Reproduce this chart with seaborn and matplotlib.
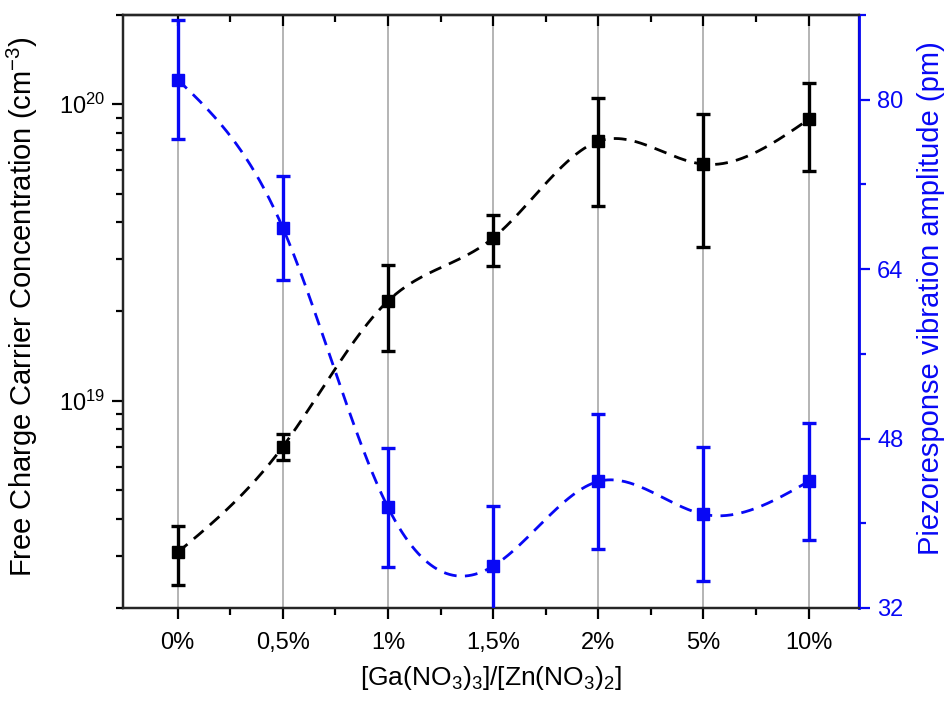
import numpy as np
import pandas as pd
import matplotlib
matplotlib.use("Agg")
import matplotlib.pyplot as plt
import seaborn as sns
from matplotlib.ticker import FixedLocator, MultipleLocator, LogLocator, NullFormatter

# ---- data ----
categories = ["0%", "0,5%", "1%", "1,5%", "2%", "5%", "10%"]
carrier_conc = [3.08e18, 7.0e18, 2.17e19, 3.54e19, 7.5e19, 6.28e19, 8.89e19]
carrier_err = [0.69e18, 0.71e18, 0.70e19, 0.70e19, 2.97e19, 2.98e19, 2.94e19]
piezo_amp = [81.9, 67.9, 41.5, 35.95, 43.95, 40.85, 43.95]
piezo_err = [5.6, 4.9, 5.6, 5.65, 6.4, 6.35, 5.55]

BLUE = "#0808f5"
sns.set_style("ticks")
plt.rcParams["font.family"] = ["Liberation Sans", "DejaVu Sans"]
plt.rcParams["mathtext.fontset"] = "custom"
plt.rcParams["mathtext.rm"] = "Liberation Sans"
plt.rcParams["mathtext.it"] = "Liberation Sans:italic"
plt.rcParams["text.color"] = "black"
plt.rcParams["axes.labelcolor"] = "black"
plt.rcParams["xtick.color"] = "black"
plt.rcParams["ytick.color"] = "black"


def natural_spline(x, y, xs):
    x = np.asarray(x, float); y = np.asarray(y, float)
    n = len(x); h = np.diff(x)
    A = np.zeros((n, n)); b = np.zeros(n)
    A[0, 0] = 1; A[-1, -1] = 1
    for i in range(1, n - 1):
        A[i, i - 1] = h[i - 1]; A[i, i] = 2 * (h[i - 1] + h[i]); A[i, i + 1] = h[i]
        b[i] = 3 * ((y[i + 1] - y[i]) / h[i] - (y[i] - y[i - 1]) / h[i - 1])
    c = np.linalg.solve(A, b)
    out = np.empty_like(xs)
    for k, t in enumerate(xs):
        i = min(max(np.searchsorted(x, t) - 1, 0), n - 2)
        bb = (y[i + 1] - y[i]) / h[i] - h[i] * (2 * c[i] + c[i + 1]) / 3
        d = (c[i + 1] - c[i]) / (3 * h[i])
        dt = t - x[i]
        out[k] = y[i] + bb * dt + c[i] * dt ** 2 + d * dt ** 3
    return out


xpos = np.arange(len(categories))
xs = np.linspace(0, len(categories) - 1, 400)
black_curve = 10 ** natural_spline(xpos, np.log10(carrier_conc), xs)
blue_curve = natural_spline(xpos, piezo_amp, xs)
df_black = pd.DataFrame({"x": xs, "y": black_curve})
df_blue = pd.DataFrame({"x": xs, "y": blue_curve})

fig = plt.figure(figsize=(9.49, 7.09), dpi=100)
ax = fig.add_axes([0.1296, 0.1425, 0.7756, 0.8363])
ax2 = ax.twinx()

# grid
for xp in xpos:
    ax.axvline(xp, color="#b4b4b4", lw=1.4, zorder=0)

# black series
sns.lineplot(data=df_black, x="x", y="y", ax=ax, color="black", lw=2.0,
             dashes=False, zorder=2)
ax.lines[-1].set_dashes([4.6, 3.0])
ax.errorbar(xpos, carrier_conc, yerr=carrier_err, fmt="s", color="black",
            ms=8, elinewidth=2.4, capsize=5, capthick=2.4, zorder=3)
ax.set_yscale("log")
ax.set_ylim(2e18, 2e20)
ax.set_xlim(-0.52, 6.48)

# blue series
sns.lineplot(data=df_blue, x="x", y="y", ax=ax2, color=BLUE, lw=2.0,
             dashes=False, zorder=2)
ax2.lines[-1].set_dashes([4.6, 3.0])
ax2.errorbar(xpos, piezo_amp, yerr=piezo_err, fmt="s", color=BLUE,
             ms=8, elinewidth=2.4, capsize=5, capthick=2.4, zorder=3)
ax2.set_ylim(32, 88)
ax2.set_xlim(-0.52, 6.48)

# ticks & labels
ax.set_xticks(xpos)
ax.set_xticklabels(categories)
ax.xaxis.set_minor_locator(FixedLocator(xpos[:-1] + 0.5))
ax.yaxis.set_major_locator(FixedLocator([1e19, 1e20]))
ax.set_yticklabels([r"$10^{19}$", r"$10^{20}$"])
ax.yaxis.set_minor_locator(LogLocator(base=10, subs=np.arange(2, 10)))
ax.yaxis.set_minor_formatter(NullFormatter())
ax.tick_params(axis="both", which="major", labelsize=17, width=1.6, length=8,
               direction="out", colors="black", pad=5)
ax.tick_params(axis="both", which="minor", width=1.6, length=5, direction="out")
ax.tick_params(axis="x", which="major", pad=9)

# top ticks pointing inward
top = ax.secondary_xaxis("top")
top.set_xticks(xpos)
top.xaxis.set_minor_locator(FixedLocator(xpos[:-1] + 0.5))
top.tick_params(axis="x", which="major", direction="in", length=8, width=1.6,
                labeltop=False)
top.tick_params(axis="x", which="minor", direction="in", length=5, width=1.6)
top.spines["top"].set_linewidth(1.6)

ax2.yaxis.set_major_locator(FixedLocator([32, 48, 64, 80]))
ax2.yaxis.set_minor_locator(MultipleLocator(8))
ax2.tick_params(axis="y", which="major", labelsize=17, width=1.6, length=8,
                colors=BLUE, pad=5)
ax2.tick_params(axis="y", which="minor", width=1.6, length=5, colors=BLUE)

for s in ax.spines.values():
    s.set_linewidth(1.6)
    s.set_color("black")
for s in ax2.spines.values():
    s.set_linewidth(1.6)
ax2.spines["right"].set_color(BLUE)
ax2.spines["right"].set_linewidth(2.0)

ax.set_xlabel(r"[Ga(NO$_3$)$_3$]/[Zn(NO$_3$)$_2$]", fontsize=19, color="black")
ax.xaxis.set_label_coords(0.5, -0.095)
ax.set_ylabel(r"Free Charge Carrier Concentration (cm$^{-3}$)", fontsize=21,
              color="black")
ax.yaxis.set_label_coords(-0.113, 0.509)
ax2.set_ylabel("Piezoresponse vibration amplitude (pm)", fontsize=21, color=BLUE,
               rotation=90)
ax2.yaxis.set_label_coords(1.079, 0.523)

fig.savefig("out.png", dpi=100)
